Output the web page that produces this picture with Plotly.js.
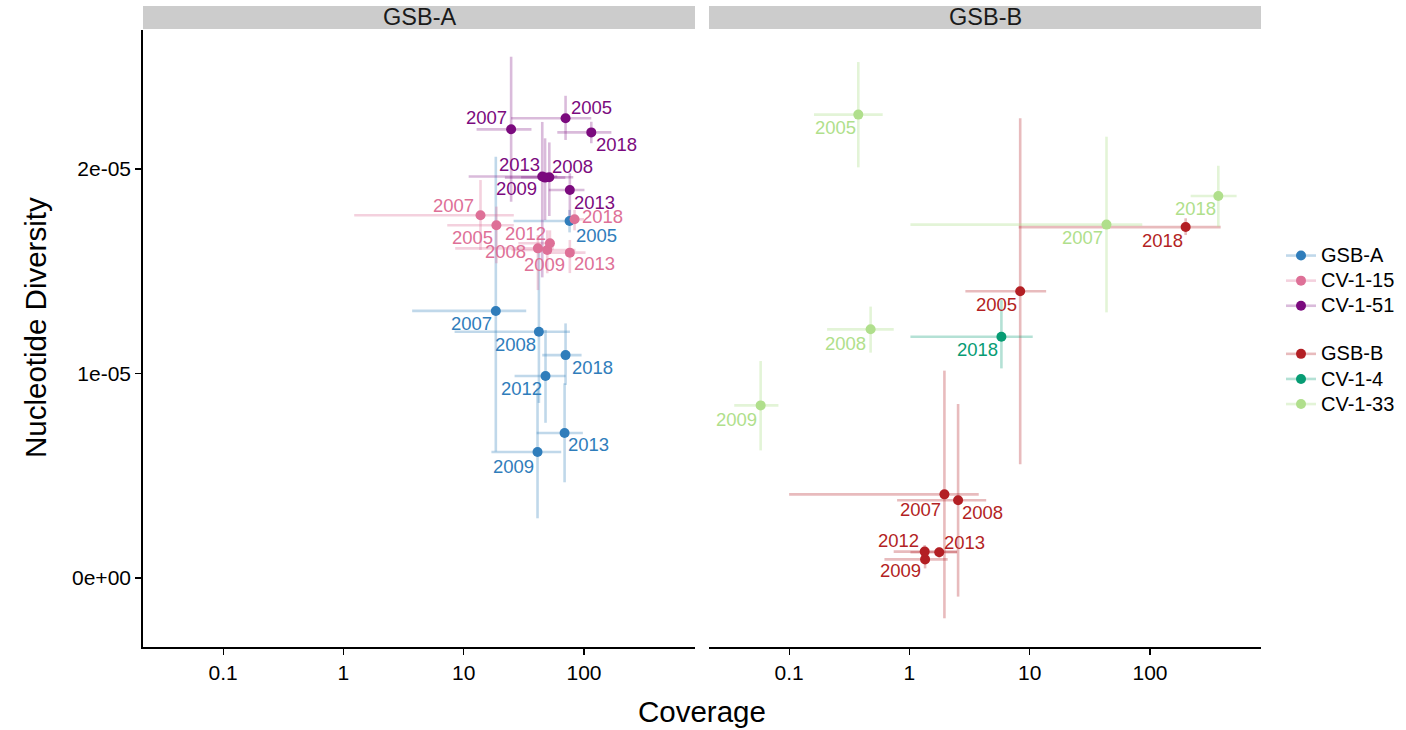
<!DOCTYPE html>
<html>
<head>
<meta charset="utf-8">
<script src="https://cdn.plot.ly/plotly-3.0.1.min.js"></script>
<style>
  html, body { margin: 0; padding: 0; background: #ffffff; }
  #chart { width: 1406px; height: 730px; }
</style>
</head>
<body>
<div id="chart"></div>
<script>
// ---- GSB-A panel -------------------------------------------------------
const gsbAYear  = ['2005', '2007', '2008', '2009', '2012', '2013', '2018'];
const gsbACov   = [75.9, 18.5, 42.2, 41.1, 47.9, 69.0, 70.3];
const gsbACovLo = [26.0, 3.73, 8.4, 17.0, 26.5, 40.4, 45.0];
const gsbACovHi = [82.0, 33.1, 76.4, 64.7, 70.3, 97.9, 95.5];
const gsbADiv   = [1.746e-5, 1.306e-5, 1.204e-5, 0.616e-5, 0.988e-5, 0.709e-5, 1.090e-5];
const gsbADivLo = [1.690e-5, 0.618e-5, 0.856e-5, 0.292e-5, 0.759e-5, 0.468e-5, 0.944e-5];
const gsbADivHi = [1.800e-5, 2.060e-5, 1.620e-5, 0.930e-5, 1.213e-5, 0.952e-5, 1.245e-5];

const cv115Year  = ['2005', '2007', '2008', '2009', '2012', '2013', '2018'];
const cv115Cov   = [18.7, 13.8, 41.4, 49.5, 52.1, 76.3, 83.5];
const cv115CovLo = [7.3, 1.23, 8.5, 25.0, 28.5, 49.5, 70.0];
const cv115CovHi = [26.1, 26.1, 56.0, 85.0, 56.0, 103.0, 100.0];
const cv115Div   = [1.725e-5, 1.774e-5, 1.612e-5, 1.604e-5, 1.637e-5, 1.591e-5, 1.754e-5];
const cv115DivLo = [1.539e-5, 1.604e-5, 1.408e-5, 1.490e-5, 1.584e-5, 1.491e-5, 1.700e-5];
const cv115DivHi = [1.816e-5, 1.946e-5, 1.677e-5, 1.700e-5, 1.700e-5, 1.653e-5, 1.800e-5];

const cv151Year  = ['2005', '2007', '2008', '2009', '2013', '2013', '2018'];
const cv151Cov   = [70.3, 24.8, 51.5, 47.5, 45.0, 76.3, 115.0];
const cv151CovLo = [24.8, 12.8, 30.0, 22.0, 11.0, 51.0, 60.0];
const cv151CovHi = [115.0, 36.6, 81.5, 70.0, 60.0, 101.0, 169.0];
const cv151Div   = [2.248e-5, 2.194e-5, 1.960e-5, 1.958e-5, 1.963e-5, 1.897e-5, 2.179e-5];
const cv151DivLo = [2.142e-5, 1.840e-5, 1.770e-5, 1.750e-5, 1.470e-5, 1.751e-5, 2.126e-5];
const cv151DivHi = [2.358e-5, 2.549e-5, 2.130e-5, 2.150e-5, 2.230e-5, 1.979e-5, 2.231e-5];

// ---- GSB-B panel -------------------------------------------------------
const gsbBYear  = ['2005', '2007', '2008', '2009', '2012', '2013', '2018'];
const gsbBCov   = [8.34, 1.955, 2.54, 1.35, 1.34, 1.77, 198.0];
const gsbBCovLo = [2.92, 0.10, 0.79, 0.62, 0.74, 1.02, 8.1];
const gsbBCovHi = [13.7, 3.77, 4.35, 2.08, 2.49, 2.49, 387.0];
const gsbBDiv   = [1.402e-5, 0.409e-5, 0.380e-5, 0.091e-5, 0.129e-5, 0.126e-5, 1.716e-5];
const gsbBDivLo = [0.556e-5, -0.197e-5, -0.091e-5, 0.047e-5, 0.098e-5, 0.100e-5, 1.677e-5];
const gsbBDivHi = [2.248e-5, 1.014e-5, 0.851e-5, 0.122e-5, 0.161e-5, 0.150e-5, 1.759e-5];

const cv14Year  = ['2018'];
const cv14Cov   = [5.82];
const cv14CovLo = [1.02];
const cv14CovHi = [10.6];
const cv14Div   = [1.180e-5];
const cv14DivLo = [1.025e-5];
const cv14DivHi = [1.359e-5];

const cv133Year  = ['2005', '2007', '2008', '2009', '2018'];
const cv133Cov   = [0.376, 43.5, 0.476, 0.058, 370.0];
const cv133CovLo = [0.161, 1.02, 0.207, 0.035, 218.0];
const cv133CovHi = [0.600, 86.3, 0.741, 0.0815, 525.0];
const cv133Div   = [2.266e-5, 1.728e-5, 1.216e-5, 0.844e-5, 1.868e-5];
const cv133DivLo = [2.008e-5, 1.299e-5, 1.102e-5, 0.624e-5, 1.718e-5];
const cv133DivHi = [2.523e-5, 2.158e-5, 1.327e-5, 1.061e-5, 2.016e-5];

// axis ticks
const xTickVals = [0.1, 1, 10, 100];
const xTickText = ['0.1', '1', '10', '100'];
const yTickVals = [0, 1e-5, 2e-5];
const yTickText = ['0e+00', '1e-05', '2e-05'];

// ---- styling ------------------------------------------------------------
const FONT = 'Liberation Sans, Arial, Helvetica, sans-serif';
const W = 1406, H = 730;
const px = v => v / W;
const py = v => (H - v) / H;

// year-label offsets in pixels [dx, dy(down)] for each point
const nudgeGsbA  = [[27, 15], [-24, 13], [-23, 13], [-24, 14], [-24, 13], [24, 11], [27, 12]];
const nudgeCv115 = [[-24, 12], [-27, -10], [-32, 3], [-3, 15], [-24, -10], [25, 11], [28, -3]];
const nudgeCv151 = [[26, -11], [-25, -12], [23, -11], [-29, 11], [-23, -12], [25, 12], [25, 12]];
const nudgeGsbB  = [[-24, 13], [-24, 15], [24, 12], [-25, 11], [-26, -11], [25, -10], [-23, 13]];
const nudgeCv14  = [[-24, 13]];
const nudgeCv133 = [[-23, 13], [-24, 13], [-25, 14], [-24, 14], [-23, 13]];

const series = [
  { name: 'GSB-A',   group: 'A', panel: 1, color: '#2f7dbb', bar: 'rgba(47,125,187,0.30)',
    year: gsbAYear, cov: gsbACov, covLo: gsbACovLo, covHi: gsbACovHi,
    div: gsbADiv, divLo: gsbADivLo, divHi: gsbADivHi, nudge: nudgeGsbA },
  { name: 'CV-1-15', group: 'A', panel: 1, color: '#de7097', bar: 'rgba(222,112,151,0.32)',
    year: cv115Year, cov: cv115Cov, covLo: cv115CovLo, covHi: cv115CovHi,
    div: cv115Div, divLo: cv115DivLo, divHi: cv115DivHi, nudge: nudgeCv115 },
  { name: 'CV-1-51', group: 'A', panel: 1, color: '#7b0a7e', bar: 'rgba(123,10,126,0.28)',
    year: cv151Year, cov: cv151Cov, covLo: cv151CovLo, covHi: cv151CovHi,
    div: cv151Div, divLo: cv151DivLo, divHi: cv151DivHi, nudge: nudgeCv151 },
  { name: 'GSB-B',   group: 'B', panel: 2, color: '#b31f24', bar: 'rgba(179,31,36,0.30)',
    year: gsbBYear, cov: gsbBCov, covLo: gsbBCovLo, covHi: gsbBCovHi,
    div: gsbBDiv, divLo: gsbBDivLo, divHi: gsbBDivHi, nudge: nudgeGsbB },
  { name: 'CV-1-4',  group: 'B', panel: 2, color: '#079c74', bar: 'rgba(7,156,116,0.30)',
    year: cv14Year, cov: cv14Cov, covLo: cv14CovLo, covHi: cv14CovHi,
    div: cv14Div, divLo: cv14DivLo, divHi: cv14DivHi, nudge: nudgeCv14 },
  { name: 'CV-1-33', group: 'B', panel: 2, color: '#b0df8c', bar: 'rgba(176,223,140,0.35)',
    year: cv133Year, cov: cv133Cov, covLo: cv133CovLo, covHi: cv133CovHi,
    div: cv133Div, divLo: cv133DivLo, divHi: cv133DivHi, nudge: nudgeCv133 }
];

const traces = [];
const annotations = [];

// error bars first so every point sits above them
series.forEach(s => {
  const xa = s.panel === 1 ? 'x' : 'x2';
  const ya = s.panel === 1 ? 'y' : 'y2';
  traces.push({
    type: 'scatter', mode: 'markers', xaxis: xa, yaxis: ya, showlegend: false, hoverinfo: 'skip',
    x: s.cov, y: s.div,
    marker: { size: 1, opacity: 0 },
    error_x: { type: 'data', symmetric: false, width: 0, thickness: 2.6, color: s.bar,
               array: s.cov.map((v, i) => s.covHi[i] - v),
               arrayminus: s.cov.map((v, i) => v - s.covLo[i]) },
    error_y: { type: 'data', symmetric: false, width: 0, thickness: 2.6, color: s.bar,
               array: s.div.map((v, i) => s.divHi[i] - v),
               arrayminus: s.div.map((v, i) => v - s.divLo[i]) }
  });
});

series.forEach(s => {
  const xa = s.panel === 1 ? 'x' : 'x2';
  const ya = s.panel === 1 ? 'y' : 'y2';
  traces.push({
    type: 'scatter', mode: 'markers', xaxis: xa, yaxis: ya, showlegend: false,
    name: s.name, x: s.cov, y: s.div, text: s.year,
    marker: { size: 10, color: s.color }
  });
  s.year.forEach((yr, i) => {
    annotations.push({
      xref: xa, yref: ya, x: Math.log10(s.cov[i]), y: s.div[i],
      text: yr, showarrow: false, xanchor: 'center', yanchor: 'middle',
      xshift: s.nudge[i][0], yshift: -s.nudge[i][1],
      font: { family: FONT, size: 18.5, color: s.color }
    });
  });
});

// legend keys (text enlarged inside a compact row height)
series.forEach(s => {
  traces.push({
    type: 'scatter', mode: 'lines+markers', xaxis: 'x', yaxis: 'y',
    x: [null], y: [null], name: '<span style="font-size:20px">' + s.name + '</span>',
    legendgroup: s.group, showlegend: true,
    line: { color: s.bar, width: 2.6 },
    marker: { size: 10, color: s.color }
  });
});

// facet strips
const shapes = [
  { type: 'rect', xref: 'paper', yref: 'paper', x0: px(143), x1: px(695), y0: py(29), y1: py(6),
    fillcolor: '#cccccc', line: { width: 0 }, layer: 'below' },
  { type: 'rect', xref: 'paper', yref: 'paper', x0: px(709), x1: px(1261), y0: py(29), y1: py(6),
    fillcolor: '#cccccc', line: { width: 0 }, layer: 'below' }
];
annotations.push(
  { xref: 'paper', yref: 'paper', x: px((143 + 695) / 2), y: py(17.5), text: 'GSB-A', showarrow: false,
    xanchor: 'center', yanchor: 'middle', font: { family: FONT, size: 23.5, color: '#1a1a1a' } },
  { xref: 'paper', yref: 'paper', x: px((709 + 1261) / 2), y: py(17.5), text: 'GSB-B', showarrow: false,
    xanchor: 'center', yanchor: 'middle', font: { family: FONT, size: 23.5, color: '#1a1a1a' } },
  { xref: 'paper', yref: 'paper', x: px((143 + 1261) / 2), y: py(711), text: 'Coverage', showarrow: false,
    xanchor: 'center', yanchor: 'middle', font: { family: FONT, size: 29.5, color: '#000' } },
  { xref: 'paper', yref: 'paper', x: px(35), y: py(328), text: 'Nucleotide Diversity', showarrow: false,
    textangle: -90, xanchor: 'center', yanchor: 'middle', font: { family: FONT, size: 29.5, color: '#000' } }
);

const xBase = {
  type: 'log', range: [-1.666, 2.923], tickvals: xTickVals, ticktext: xTickText,
  ticks: 'outside', ticklen: 6, tickwidth: 1.2, tickcolor: '#000',
  showline: true, linecolor: '#000', linewidth: 2, showgrid: false, zeroline: false,
  tickfont: { family: FONT, size: 21, color: '#000' }, fixedrange: true
};
const yRange = [-0.3374e-5, 2.6797e-5];
const yDomain = [py(647), py(30)];

const layout = {
  width: W, height: H,
  margin: { l: 0, r: 0, t: 0, b: 0 },
  paper_bgcolor: '#ffffff', plot_bgcolor: '#ffffff',
  font: { family: FONT, color: '#000' },
  xaxis: Object.assign({}, xBase, { domain: [px(143), px(695)], anchor: 'y' }),
  xaxis2: Object.assign({}, xBase, { domain: [px(709), px(1261)], anchor: 'y2' }),
  yaxis: {
    domain: yDomain, range: yRange, anchor: 'x', tickvals: yTickVals, ticktext: yTickText,
    ticks: 'outside', ticklen: 6, tickwidth: 1.2, tickcolor: '#000',
    showline: true, linecolor: '#000', linewidth: 1.8, showgrid: false, zeroline: false,
    tickfont: { family: FONT, size: 21, color: '#000' }, fixedrange: true
  },
  yaxis2: {
    domain: yDomain, range: yRange, anchor: 'x2', showticklabels: false, ticks: '',
    showline: false, showgrid: false, zeroline: false, fixedrange: true
  },
  showlegend: true,
  legend: {
    x: px(1281), y: py(238), xanchor: 'left', yanchor: 'top',
    traceorder: 'grouped', tracegroupgap: 23, bgcolor: 'rgba(0,0,0,0)',
    font: { family: FONT, size: 17, color: '#000' }, itemwidth: 30
  },
  shapes: shapes,
  annotations: annotations
};

Plotly.newPlot('chart', traces, layout, { displayModeBar: false, staticPlot: true });
</script>
</body>
</html>
